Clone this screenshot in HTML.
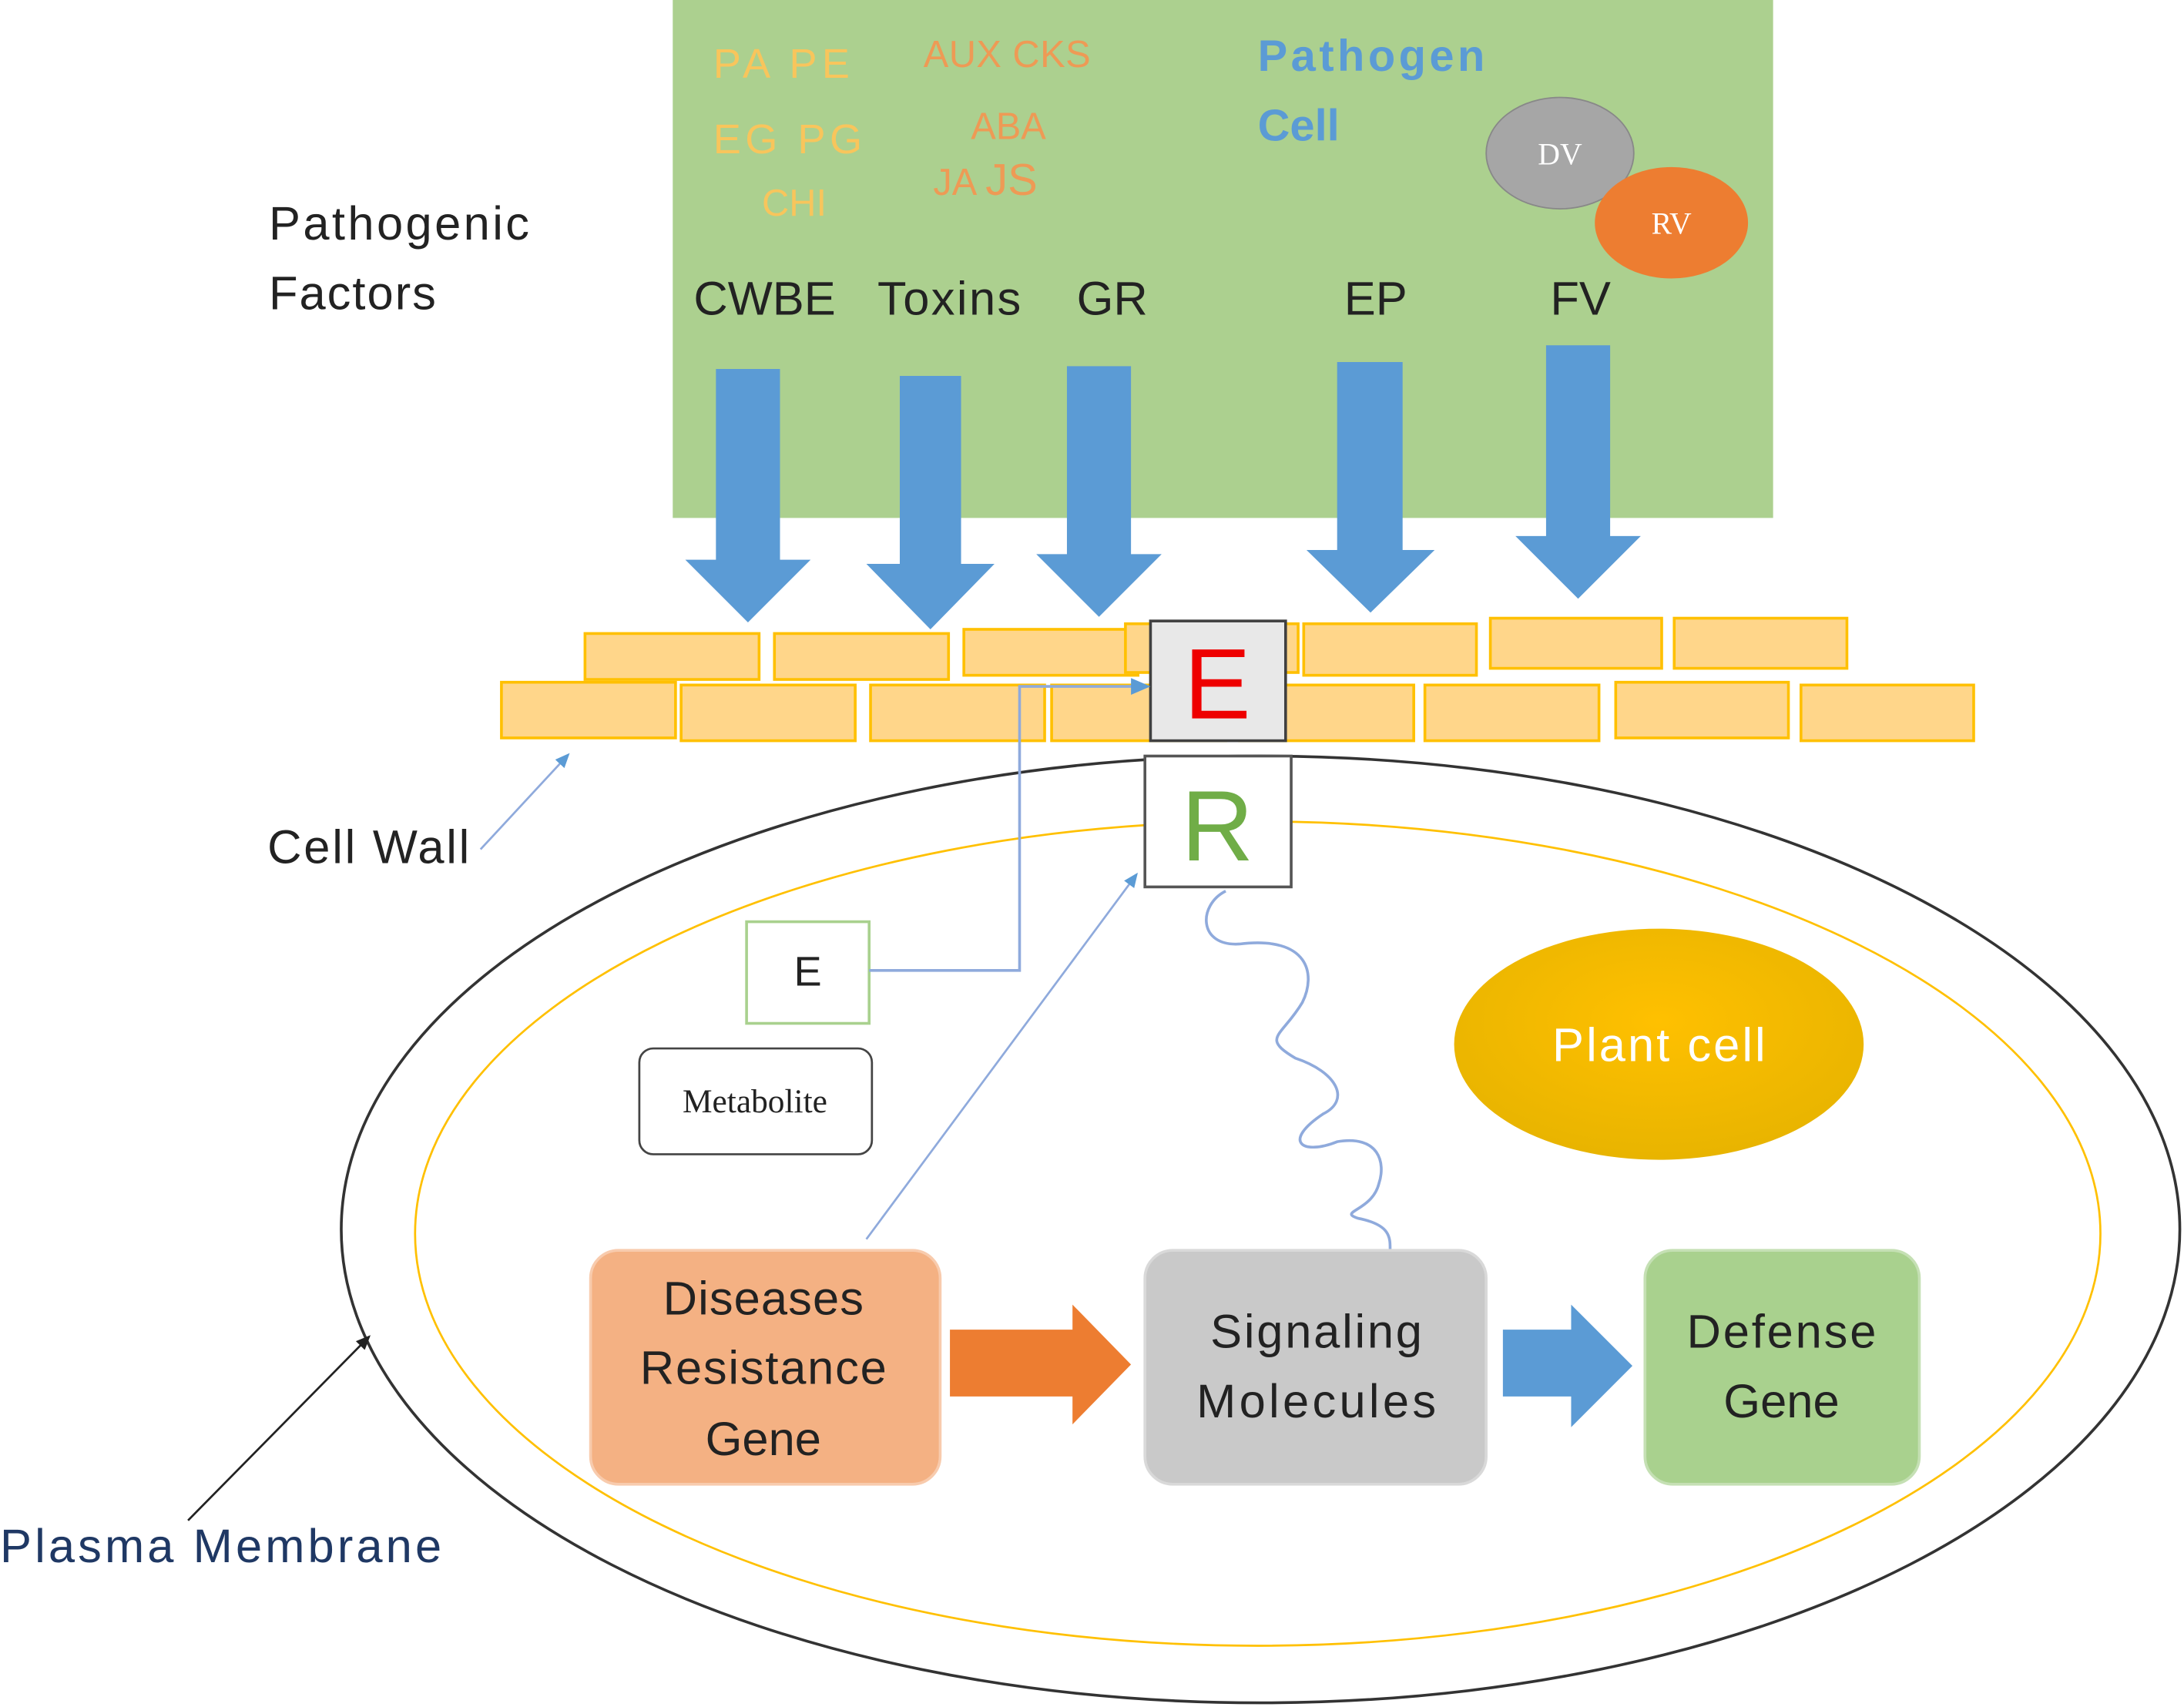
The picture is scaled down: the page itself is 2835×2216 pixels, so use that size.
<!DOCTYPE html>
<html><head><meta charset="utf-8"><style>
html,body{margin:0;padding:0;background:#fff;}
svg{display:block;}
text{font-family:"Liberation Sans",sans-serif;}
</style></head><body>
<svg width="2835" height="2216" viewBox="0 0 1568 1226" preserveAspectRatio="none" xmlns="http://www.w3.org/2000/svg">
<defs>
<radialGradient id="pc" cx="50%" cy="40%" r="60%"><stop offset="0" stop-color="#ffc000"/><stop offset="1" stop-color="#e8b400"/></radialGradient>
<marker id="ab" markerWidth="8" markerHeight="8" refX="6" refY="4" orient="auto"><path d="M0,1 L7,4 L0,7z" fill="#5b9bd5"/></marker>
<marker id="ak" markerWidth="8" markerHeight="8" refX="6" refY="4" orient="auto"><path d="M0,1 L7,4 L0,7z" fill="#222"/></marker>
</defs>
<rect x="483" y="0" width="790" height="372" fill="#acd08f"/>
<g font-size="30">
<text x="512" y="56" fill="#f8c55c" textLength="98">PA  PE</text>
<text x="512" y="110" fill="#f8c55c" textLength="107">EG  PG</text>
<text x="547" y="155" fill="#f8c55c" font-size="27">CHI</text>
<text x="663" y="48" fill="#ee9a55" font-size="27" textLength="120">AUX  CKS</text>
<text x="697" y="100" fill="#ee9a55" font-size="27">ABA</text>
<text x="670" y="140" fill="#ee9a55" font-size="27">JA <tspan font-size="32">JS</tspan></text>
<text x="903" y="51" fill="#5b9bd5" font-weight="bold" font-size="32" textLength="163">Pathogen</text>
<text x="903" y="101" fill="#5b9bd5" font-weight="bold" font-size="32">Cell</text>
</g>
<ellipse cx="1120" cy="110" rx="53" ry="40" fill="#a6a6a6" stroke="#888"/>
<text x="1120" y="118" fill="#fff" font-size="22" text-anchor="middle" style="font-family:'Liberation Serif',serif">DV</text>
<ellipse cx="1200" cy="160" rx="55" ry="40" fill="#ed7d31"/>
<text x="1200" y="168" fill="#fff" font-size="22" text-anchor="middle" style="font-family:'Liberation Serif',serif">RV</text>
<g font-size="34" fill="#222">
<text x="498" y="226" textLength="102">CWBE</text><text x="630" y="226" textLength="103">Toxins</text><text x="773" y="226">GR</text><text x="965" y="226">EP</text><text x="1113" y="226">FV</text>
</g>
<g fill="#5b9bd5">
<path d="M514,265 H560 V402 H582 L537,447 L492,402 H514z"/>
<path d="M646,270 H690 V405 H714 L668,452 L622,405 H646z"/>
<path d="M766,263 H812 V398 H834 L789,443 L744,398 H766z"/>
<path d="M960,260 H1007 V395 H1030 L984,440 L938,395 H960z"/>
<path d="M1110,248 H1156 V385 H1178 L1133,430 L1088,385 H1110z"/>
</g>
<g fill="#ffd68a" stroke="#ffc000" stroke-width="2">
<rect x="420" y="455" width="125" height="33"/><rect x="556" y="455" width="125" height="33"/><rect x="692" y="452" width="125" height="33"/><rect x="808" y="448" width="124" height="35"/><rect x="936" y="448" width="124" height="37"/><rect x="1070" y="444" width="123" height="36"/><rect x="1202" y="444" width="124" height="36"/>
<rect x="360" y="490" width="125" height="40"/><rect x="489" y="492" width="125" height="40"/><rect x="625" y="492" width="125" height="40"/><rect x="755" y="492" width="125" height="40"/><rect x="890" y="492" width="125" height="40"/><rect x="1023" y="492" width="125" height="40"/><rect x="1160" y="490" width="124" height="40"/><rect x="1293" y="492" width="124" height="40"/>
</g>
<ellipse cx="905" cy="883" rx="660" ry="340" fill="none" stroke="#333" stroke-width="2"/>
<ellipse cx="903" cy="886" rx="605" ry="296" fill="none" stroke="#ffc000" stroke-width="1.5"/>
<rect x="826" y="446" width="97" height="86" fill="#e8e8e8" stroke="#404040" stroke-width="2"/>
<text x="874" y="516" fill="#e00" font-size="72" text-anchor="middle">E</text>
<rect x="822" y="543" width="105" height="94" fill="#fff" stroke="#555" stroke-width="2"/>
<text x="874" y="618" fill="#70ad47" font-size="72" text-anchor="middle">R</text>
<ellipse cx="1191" cy="750" rx="147" ry="83" fill="url(#pc)"/>
<text x="1191" y="762" fill="#fff" font-size="34" text-anchor="middle" textLength="153">Plant cell</text>
<rect x="536" y="662" width="88" height="73" fill="#fff" stroke="#a9d18e" stroke-width="2"/>
<text x="580" y="708" font-size="30" text-anchor="middle" fill="#222">E</text>
<rect x="459" y="753" width="167" height="76" rx="10" fill="#fff" stroke="#444" stroke-width="1.5"/>
<text x="542" y="799" font-size="24" text-anchor="middle" fill="#222" style="font-family:'Liberation Serif',serif">Metabolite</text>
<path d="M624,697 H732 V493 H824" fill="none" stroke="#8faadc" stroke-width="2" marker-end="url(#ab)"/>
<path d="M622,890 L816,628" fill="none" stroke="#8faadc" stroke-width="1.5" marker-end="url(#ab)"/>
<path d="M880,640 C860,650 860,680 890,678 C940,672 945,700 935,720 C920,745 905,745 930,760 C960,770 970,790 950,800 C920,820 935,830 960,820 C990,815 995,835 990,850 C985,870 960,870 975,875 C1000,880 998,890 998,900" fill="none" stroke="#8faadc" stroke-width="2"/>
<g font-size="34" fill="#222">
<text x="193" y="172" textLength="187">Pathogenic</text><text x="193" y="222" textLength="120">Factors</text>
<text x="192" y="620" textLength="145">Cell Wall</text>
</g>
<path d="M345,610 L408,542" stroke="#8faadc" stroke-width="1.5" marker-end="url(#ab)"/>
<text x="0" y="1122" font-size="34" fill="#1f3864" textLength="317">Plasma Membrane</text>
<path d="M135,1092 L265,960" stroke="#222" stroke-width="1.5" marker-end="url(#ak)"/>
<rect x="424" y="898" width="251" height="168" rx="20" fill="#f4b183" stroke="#f8cbad" stroke-width="2"/>
<g font-size="34" fill="#222" text-anchor="middle">
<text x="548" y="944" textLength="144">Diseases</text><text x="548" y="994" textLength="177">Resistance</text><text x="548" y="1045">Gene</text>
</g>
<path d="M682,955 H770 V937 L812,980 L770,1023 V1003 H682z" fill="#ed7d31"/>
<rect x="822" y="898" width="245" height="168" rx="20" fill="#c9c9c9" stroke="#d9d9d9" stroke-width="2"/>
<g font-size="34" fill="#222" text-anchor="middle">
<text x="945" y="968" textLength="152">Signaling</text><text x="945" y="1018" textLength="172">Molecules</text>
</g>
<path d="M1079,955 H1128 V937 L1172,981 L1128,1025 V1003 H1079z" fill="#5b9bd5"/>
<rect x="1181" y="898" width="197" height="168" rx="20" fill="#a9d18e" stroke="#c5e0b4" stroke-width="2"/>
<g font-size="34" fill="#222" text-anchor="middle">
<text x="1279" y="968" textLength="136">Defense</text><text x="1279" y="1018">Gene</text>
</g>
</svg>
</body></html>
